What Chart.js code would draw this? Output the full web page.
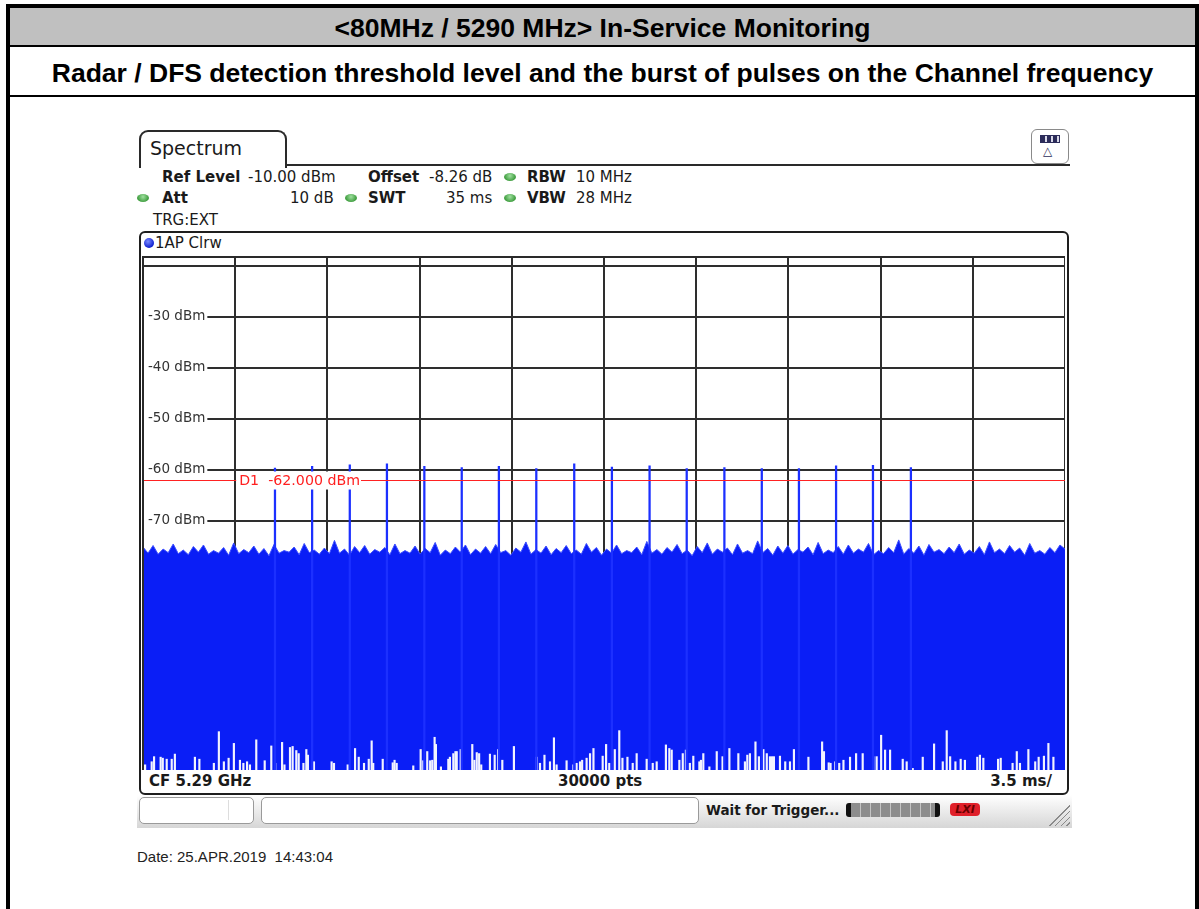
<!DOCTYPE html>
<html>
<head>
<meta charset="utf-8">
<script src="https://cdn.jsdelivr.net/npm/chart.js@4"></script>
<style>
  body { margin: 0; width: 1199px; height: 909px; overflow: hidden; background: #fff; position: relative; }
  .abs { position: absolute; }
  .blk { position: absolute; background: #000; }
  .hdr { position: absolute; left: 10px; width: 1185px; text-align: center; font: bold 26.5px "Liberation Sans", Arial, sans-serif; color: #000; }
  .rs { position: absolute; font: 15px "DejaVu Sans", sans-serif; color: #1a1a1a; line-height: 18px; white-space: pre; }
  .b { font-weight: bold; }
  .dot { position: absolute; width: 12px; height: 8px; border-radius: 50%; background: radial-gradient(circle at 50% 35%, #9fe09f, #3f9d3f 70%); }
</style>
</head>
<body>
<!-- table frame -->
<div class="blk" style="left:6px;top:4px;width:1193px;height:4px"></div>
<div class="blk" style="left:6px;top:4px;width:4px;height:905px"></div>
<div class="blk" style="left:1195px;top:4px;width:4px;height:905px"></div>
<div class="abs" style="left:10px;top:8px;width:1185px;height:37px;background:#c0c0c0"></div>
<div class="blk" style="left:10px;top:45px;width:1185px;height:2px"></div>
<div class="blk" style="left:10px;top:95px;width:1185px;height:2px"></div>
<div class="hdr" style="top:12px;line-height:32px">&lt;80MHz / 5290 MHz&gt; In-Service Monitoring</div>
<div class="hdr" style="top:57px;line-height:32px">Radar / DFS detection threshold level and the burst of pulses on the Channel frequency</div>

<!-- analyzer tab -->
<div class="abs" style="left:139px;top:130px;width:144px;height:36px;border:2px solid #2a2a2a;border-bottom:none;border-radius:9px 9px 0 0"></div>
<div class="abs" style="left:285px;top:164px;width:785px;height:2px;background:#2a2a2a"></div>
<div class="rs" style="left:150px;top:137px;font-size:19px;line-height:22px">Spectrum</div>
<div class="abs" style="left:1031px;top:129px;width:36px;height:33px;border:1.5px solid #8a8a8a;border-radius:6px"></div>
<div class="abs" style="left:1040px;top:135px;width:18px;height:6px;background:repeating-linear-gradient(90deg,#2c2c5a 0 4px,#d8d8e8 4px 6px);border:1px solid #2c2c5a"></div>
<div class="rs" style="left:1043px;top:144px;font-size:12px;line-height:14px;color:#2c2c5a">△</div>

<!-- settings -->
<div class="rs b" style="left:162px;top:168px">Ref Level</div>
<div class="rs" style="left:248px;top:168px">-10.00 dBm</div>
<div class="rs b" style="left:368px;top:168px">Offset</div>
<div class="rs" style="left:429px;top:168px">-8.26 dB</div>
<div class="dot" style="left:504px;top:173px"></div>
<div class="rs b" style="left:527px;top:168px">RBW</div>
<div class="rs" style="left:576px;top:168px">10 MHz</div>
<div class="dot" style="left:137px;top:194px"></div>
<div class="rs b" style="left:162px;top:189px">Att</div>
<div class="rs" style="left:290px;top:189px">10 dB</div>
<div class="dot" style="left:345px;top:194px"></div>
<div class="rs b" style="left:368px;top:189px">SWT</div>
<div class="rs" style="left:446px;top:189px">35 ms</div>
<div class="dot" style="left:504px;top:194px"></div>
<div class="rs b" style="left:527px;top:189px">VBW</div>
<div class="rs" style="left:576px;top:189px">28 MHz</div>
<div class="rs" style="left:153px;top:211px">TRG:EXT</div>

<!-- diagram box -->
<div class="abs" style="left:139px;top:231px;width:926px;height:560px;border:2px solid #1e1e1e;border-radius:6px"></div>
<div class="abs" style="left:144px;top:238px;width:10px;height:10px;border-radius:50%;background:radial-gradient(circle at 40% 35%,#7b8cff,#1020d0 70%)"></div>
<div class="rs" style="left:155px;top:234px">1AP Clrw</div>
<canvas id="spec" width="922" height="513" class="abs" style="left:143px;top:257px"></canvas>
<div class="abs" style="left:143px;top:256px;width:922px;height:2px;background:#2a2a2a"></div>
<div class="abs" style="left:142px;top:256px;width:2px;height:514px;background:#2a2a2a"></div>
<div class="rs b" style="left:149px;top:772px">CF 5.29 GHz</div>
<div class="rs b" style="left:558px;top:772px">30000 pts</div>
<div class="rs b" style="left:932px;top:772px;width:120px;text-align:right">3.5 ms/</div>

<!-- status bar -->
<div class="abs" style="left:137px;top:795px;width:935px;height:33px;background:linear-gradient(#ffffff,#d6d6d6)"></div>
<div class="abs" style="left:139px;top:797px;width:113px;height:25px;background:#fff;border:1px solid #9a9a9a;border-radius:5px"></div>
<div class="abs" style="left:228px;top:800px;width:1px;height:20px;background:#ddd"></div>
<div class="abs" style="left:261px;top:797px;width:436px;height:25px;background:#fff;border:1px solid #9a9a9a;border-radius:5px"></div>
<div class="rs b" style="left:706px;top:801px;font-size:13.5px">Wait for Trigger...</div>
<div class="abs" style="left:846px;top:803px;width:84px;height:14px;border-left:5px solid #111;border-right:5px solid #111;border-radius:3px;background:repeating-linear-gradient(90deg,#8d8d8d 0 9px,#c4c4c4 9px 10px)"></div>
<div class="abs" style="left:950px;top:803px;width:30px;height:13px;background:#e0202a;border-radius:4px;color:#6a0000;font:italic bold 11px 'DejaVu Sans',sans-serif;text-align:center;line-height:13px">LXI</div>
<div class="abs" style="left:1046px;top:802px;width:24px;height:24px;background:repeating-linear-gradient(135deg,transparent 0 3px,#8a8a8a 3px 4px);clip-path:polygon(100% 0,100% 100%,0 100%)"></div>

<div class="abs" style="left:137px;top:848px;font:15px 'Liberation Sans',Arial,sans-serif;color:#222">Date: 25.APR.2019&nbsp;&nbsp;14:43:04</div>

<script>
// sweep: 35 ms, 3.5 ms/div
xGrid = [0, 3.5, 7, 10.5, 14, 17.5, 21, 24.5, 28, 31.5, 35]
yGrid = [-20, -30, -40, -50, -60, -70, -80, -90, -100, -110]
yTickLabels = ['', '-30 dBm', '-40 dBm', '-50 dBm', '-60 dBm', '-70 dBm', '', '', '', '']
yTop = -18.33
yBottom = -118.92
d1Level = -62

// radar burst (ms, dBm)
pulseTimes = [5.01, 6.42, 7.85, 9.26, 10.68, 12.10, 13.51, 14.93, 16.37, 17.80, 19.23, 20.64, 22.07, 23.49, 24.90, 26.31, 27.71, 29.15]
pulseLevels = [-59.7, -59.4, -59.1, -58.9, -59.4, -59.6, -59.4, -59.8, -58.9, -59.5, -59.3, -59.8, -59.6, -59.8, -59.8, -59.3, -59.2, -59.6]

// upper edge of the noise trace, left to right across the sweep
noiseTop = [
  -75.2,-76.4,-74.9,-76.6,-75.6,-76.3,-74.6,-76.5,-75.8,-76.7,-75.1,-76.2,-74.8,-76.6,-75.9,-76.4,-75.3,-76.8,-74.4,-76.5,-75.7,-76.3,-75.0,
  -76.6,-75.5,-76.9,-74.7,-76.4,-75.9,-76.2,-75.2,-76.7,-74.5,-76.3,-75.8,-76.6,-75.4,-76.5,-73.9,-76.4,-75.6,-76.8,-75.1,-76.3,-74.9,-76.6,
  -75.7,-76.2,-75.3,-76.7,-74.6,-76.5,-75.9,-76.4,-75.0,-76.6,-75.5,-76.3,-74.3,-76.8,-75.8,-76.5,-75.2,-76.2,-74.8,-76.7,-75.6,-76.4,-75.1,
  -76.5,-74.7,-76.3,-75.9,-76.8,-75.4,-76.2,-74.2,-76.6,-75.7,-76.4,-75.0,-76.7,-75.5,-76.3,-74.9,-76.5,-75.8,-76.6,-74.5,-76.2,-75.3,-76.8,
  -75.6,-76.4,-74.8,-76.5,-75.9,-76.3,-75.2,-76.7,-74.1,-76.4,-75.7,-76.6,-75.3,-76.2,-74.7,-76.5,-75.8,-76.9,-75.1,-76.3,-74.4,-76.6,-75.6,
  -76.2,-75.4,-76.7,-74.6,-76.4,-75.9,-76.5,-74.0,-76.3,-75.5,-76.8,-75.0,-76.4,-74.9,-76.6,-75.7,-76.2,-75.2,-76.7,-74.3,-76.5,-75.8,-76.3,
  -75.1,-76.6,-74.8,-76.4,-75.6,-76.2,-74.5,-76.7,-75.9,-76.5,-75.3,-76.3,-73.8,-76.6,-75.5,-76.4,-75.0,-76.8,-74.7,-76.2,-75.7,-76.5,-75.2,
  -76.3,-74.6,-76.6,-75.8,-76.4,-75.1,-76.7,-74.2,-76.3,-75.6,-76.5,-74.9,-76.2,-75.4,-76.8,-74.5,-76.4,-75.9,-76.6,-75.3,-76.3,-74.8,-75.6
]

// white gaps at the bottom of the trace (ms, dBm)
dipTimes = [0.08, 0.33, 0.42, 0.67, 0.75, 0.90, 1.09, 1.21, 1.97, 2.14, 2.69, 2.88, 3.07, 3.25, 3.45, 3.68, 3.81, 3.95, 4.06, 4.30,
  4.62, 4.87, 5.02, 5.28, 5.37, 5.58, 5.68, 5.82, 5.91, 6.09, 6.20, 6.26, 6.49, 7.16, 7.25, 7.77, 8.05, 8.19, 8.39, 8.57,
  8.68, 8.74, 9.10, 9.48, 9.55, 9.63, 10.26, 10.54, 10.64, 10.79, 10.90, 10.98, 11.07, 11.12, 11.31, 11.59, 11.65, 11.78, 11.86, 11.91,
  12.06, 12.50, 12.58, 12.67, 12.76, 12.84, 13.17, 13.35, 13.48, 13.64, 14.08, 14.94, 15.07, 15.24, 15.45, 15.60, 15.70, 16.08, 16.34, 16.46,
  16.59, 16.67, 16.84, 16.97, 17.10, 17.45, 17.58, 17.70, 17.91, 18.08, 18.20, 18.39, 18.59, 18.74, 19.12, 19.35, 19.50, 19.85, 19.98, 20.07,
  20.36, 20.49, 20.61, 20.76, 20.89, 21.12, 21.18, 21.27, 21.50, 21.78, 22.00, 22.26, 22.60, 22.85, 22.94, 23.04, 23.25, 23.38, 23.55, 23.68,
  23.80, 23.88, 23.95, 24.18, 24.38, 24.56, 24.71, 25.26, 25.78, 25.85, 26.03, 26.10, 26.28, 26.43, 26.59, 26.84, 27.07, 27.32, 27.72, 27.85,
  28.02, 28.17, 28.36, 28.84, 28.99, 29.22, 29.60, 30.03, 30.36, 30.51, 30.64, 30.84, 31.04, 31.20, 31.67, 31.77, 31.90, 32.46, 32.56, 33.01,
  33.17, 33.29, 33.61, 33.87, 34.00, 34.20, 34.37, 34.56]
dipLevels = [-117.9, -117.3, -116.3, -116.4, -116.6, -116.8, -116.8, -115.8, -116.4, -116.8, -117.6, -111.4, -117.3, -116.6, -113.7, -117.0, -117.6, -117.3, -117.9, -113.0,
  -117.1, -114.2, -117.6, -113.5, -117.9, -114.5, -114.3, -115.1, -115.7, -117.6, -114.9, -116.0, -117.3, -117.3, -117.6, -117.9, -114.7, -116.4, -117.6, -116.8,
  -113.2, -117.6, -116.8, -117.5, -117.0, -117.6, -118.1, -114.9, -117.1, -115.3, -117.1, -117.0, -112.5, -113.9, -118.3, -116.8, -116.4, -115.7, -115.3, -115.3,
  -114.9, -113.9, -117.0, -115.5, -115.7, -117.9, -115.8, -116.0, -114.9, -117.0, -114.3, -116.4, -117.6, -116.0, -117.3, -112.6, -117.9, -117.1, -117.9, -117.6,
  -117.3, -117.0, -116.6, -115.7, -114.7, -116.2, -113.9, -117.6, -114.9, -111.2, -116.6, -116.4, -117.6, -115.7, -116.8, -117.6, -117.3, -114.0, -114.7, -115.0,
  -117.0, -115.7, -115.0, -117.6, -116.2, -117.3, -117.0, -115.7, -118.3, -115.3, -116.3, -114.7, -115.7, -117.3, -116.0, -115.7, -113.4, -116.3, -114.9, -115.7,
  -116.3, -116.3, -116.3, -116.2, -117.3, -117.3, -114.9, -116.4, -113.4, -115.3, -117.5, -117.6, -117.3, -117.6, -117.0, -116.4, -115.7, -115.7, -116.3, -116.3,
  -112.1, -115.0, -115.0, -116.8, -117.3, -118.6, -116.4, -113.8, -117.3, -111.2, -116.3, -117.3, -116.8, -117.0, -116.4, -116.0, -116.6, -116.8, -116.6, -117.6,
  -115.3, -117.6, -114.9, -117.3, -116.4, -116.2, -113.7, -116.4]

noisePoints = []
for (i = 0; i < noiseTop.length; i++) {
  noisePoints.push({x: i * 35 / (noiseTop.length - 1), y: noiseTop[i]})
}
dipBars = []
for (i = 0; i < dipTimes.length; i++) {
  dipBars.push({x: dipTimes[i], y: [yBottom, dipLevels[i]]})
}
pulseBars = []
for (i = 0; i < pulseTimes.length; i++) {
  pulseBars.push({x: pulseTimes[i], y: [yBottom, pulseLevels[i]]})
}

gridColor = '#2e2e2e'

// display line D1 with its label
const displayLine = {
  id: 'displayLine',
  afterDatasetsDraw(chart) {
    const {ctx, chartArea, scales} = chart
    const py = Math.round(scales.y.getPixelForValue(d1Level)) + 0.5
    ctx.save()
    ctx.strokeStyle = '#ff2222'
    ctx.lineWidth = 1
    ctx.beginPath()
    ctx.moveTo(chartArea.left, py)
    ctx.lineTo(chartArea.right, py)
    ctx.stroke()
    const txt = 'D1  -62.000 dBm'
    ctx.font = '14.2px "DejaVu Sans"'
    const lx = scales.x.getPixelForValue(xGrid[1]) + 1
    const w = ctx.measureText(txt).width
    ctx.fillStyle = '#ffffff'
    ctx.fillRect(lx, py - 9, w + 4, 18)
    ctx.fillStyle = '#ff2020'
    ctx.textBaseline = 'middle'
    ctx.fillText(txt, lx + 3, py + 1)
    ctx.restore()
  }
}

let ctx = document.getElementById('spec')
new Chart(ctx, {
  type: 'line',
  data: {
    datasets: [{
      label: '1AP Clrw',
      data: noisePoints,
      borderColor: '#3a4cff',
      borderWidth: 1,
      backgroundColor: '#0a1ef6',
      fill: 'start',
      pointRadius: 0,
      tension: 0,
      order: 3
    }, {
      type: 'bar',
      label: 'gaps',
      data: dipBars,
      backgroundColor: '#f2f3ff',
      barThickness: 1.5,
      grouped: false,
      order: 2
    }, {
      type: 'bar',
      label: 'pulses',
      data: pulseBars,
      backgroundColor: '#1c30ff',
      barThickness: 1.6,
      grouped: false,
      order: 1
    }]
  },
  options: {
    responsive: false,
    animation: false,
    events: [],
    layout: { padding: 0 },
    plugins: { legend: { display: false }, tooltip: { enabled: false } },
    scales: {
      x: {
        type: 'linear',
        min: 0,
        max: 35,
        offset: false,
        afterBuildTicks: s => { s.ticks = xGrid.map(v => ({value: v})) },
        afterFit: s => { s.height = 0; s.paddingLeft = 0; s.paddingRight = 0 },
        ticks: { display: false },
        grid: { color: gridColor, lineWidth: 2, drawTicks: false, offset: false },
        border: { display: false }
      },
      y: {
        min: yBottom,
        max: yTop,
        afterBuildTicks: s => { s.ticks = yGrid.map(v => ({value: v})) },
        afterFit: s => { s.width = 0; s.paddingTop = 0; s.paddingBottom = 0 },
        ticks: {
          mirror: true,
          padding: 5,
          color: '#333',
          font: { family: 'DejaVu Sans', size: 13.5 },
          callback: (v, i) => yTickLabels[i],
          showLabelBackdrop: c => yTickLabels[c.index] !== '',
          backdropColor: '#ffffff',
          backdropPadding: { left: 5, right: 2, top: 2, bottom: 2 }
        },
        grid: { color: gridColor, lineWidth: 2, drawTicks: false },
        border: { display: false }
      }
    }
  },
  plugins: [displayLine]
})
</script>
</body>
</html>
